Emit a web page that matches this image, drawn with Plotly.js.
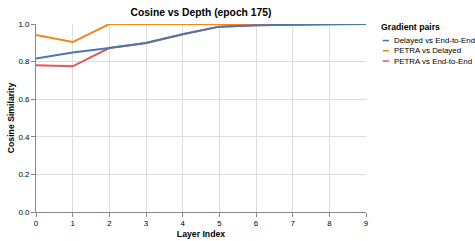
<!DOCTYPE html>
<html>
<head>
<meta charset="utf-8">
<script src="https://cdn.plot.ly/plotly-3.0.1.min.js"></script>
<style>html,body{margin:0;padding:0;background:#fff;}#chart{width:475px;height:241px;}</style>
</head>
<body>
<div id="chart"></div>
<script>
const layers = [0, 1, 2, 3, 4, 5, 6, 7, 8, 9];
const seriesNames = ["Delayed vs End-to-End", "PETRA vs Delayed", "PETRA vs End-to-End"];
const delayedVsE2E = [0.817, 0.849, 0.872, 0.899, 0.945, 0.986, 0.993, 0.997, 0.999, 1.0];
const petraVsDelayed = [0.941, 0.904, 1.0, 1.0, 1.0, 1.0, 1.0, 1.0, 1.0, 1.0];
const petraVsE2E = [0.781, 0.775, 0.872, 0.899, 0.945, 0.986, 0.993, 0.997, 0.999, 1.0];
const colors = ["#4c78a8", "#f58518", "#e45756"];
const yTicks = [0, 0.2, 0.4, 0.6, 0.8, 1.0];
const legendTitle = "Gradient pairs";

const font = "Liberation Sans, Arial, Helvetica, sans-serif";
const allSeries = [delayedVsE2E, petraVsDelayed, petraVsE2E];
// draw order: last series first so the first one ends on top
const traces = allSeries.map((ys, i) => ({
  x: layers, y: ys, name: seriesNames[i], type: "scatter", mode: "lines",
  line: {color: colors[i], width: 2}, hoverinfo: "skip", showlegend: false
})).reverse();

// compact legend, vega-style
const legX0 = 1.0506, legX1 = 1.0697, legTextX = 1.0809;
const legY = [0.912, 0.858, 0.803];
const annotations = [{
  text: "<b>" + legendTitle + "</b>", xref: "paper", yref: "paper", x: 1.0425, y: 0.9856,
  xanchor: "left", yanchor: "middle", showarrow: false, borderpad: 0,
  font: {family: font, size: 8.7, color: "#000"}
}];
const shapes = [];
seriesNames.forEach((n, i) => {
  annotations.push({text: n, xref: "paper", yref: "paper", x: legTextX, y: legY[i],
    xanchor: "left", yanchor: "middle", showarrow: false, borderpad: 0,
    font: {family: font, size: 7.9, color: "#000"}});
  shapes.push({type: "line", xref: "paper", yref: "paper", x0: legX0, x1: legX1, y0: legY[i], y1: legY[i],
    line: {color: colors[i], width: 1.5}});
});

const layout = {
  width: 475, height: 241,
  margin: {l: 36, r: 109, t: 24, b: 29, pad: 0},
  paper_bgcolor: "#fff", plot_bgcolor: "#fff",
  font: {family: font, size: 8, color: "#000"},
  title: {text: "Cosine vs Depth (epoch 175)", font: {family: font, size: 10.3, color: "#000", weight: "bold"},
          x: 0.5, xref: "paper", xanchor: "center", y: 1 - 12/241, yref: "container", yanchor: "middle"},
  xaxis: {
    range: [0, 9], tickvals: layers, ticktext: layers.map(String),
    showgrid: true, gridcolor: "#ddd", gridwidth: 1, zeroline: false,
    showline: true, linecolor: "#888", linewidth: 1,
    ticks: "outside", ticklen: 4, tickcolor: "#888", tickwidth: 1,
    tickfont: {family: font, size: 7.9, color: "#000"},
    title: {text: "Layer Index", font: {family: font, size: 8.7, color: "#000", weight: "bold"}, standoff: 3},
    automargin: false
  },
  yaxis: {
    range: [0, 1], tickvals: yTicks, ticktext: yTicks.map(v => v.toFixed(1)),
    showgrid: true, gridcolor: "#ddd", gridwidth: 1, zeroline: false,
    showline: true, linecolor: "#888", linewidth: 1,
    ticks: "outside", ticklen: 4, tickcolor: "#888", tickwidth: 1,
    tickfont: {family: font, size: 7.9, color: "#000"},
    title: {text: "Cosine Similarity", font: {family: font, size: 8.7, color: "#000", weight: "bold"}, standoff: 2},
    automargin: false
  },
  showlegend: false,
  annotations: annotations,
  shapes: shapes
};

Plotly.newPlot("chart", traces, layout, {staticPlot: true, displayModeBar: false});
</script>
</body>
</html>
